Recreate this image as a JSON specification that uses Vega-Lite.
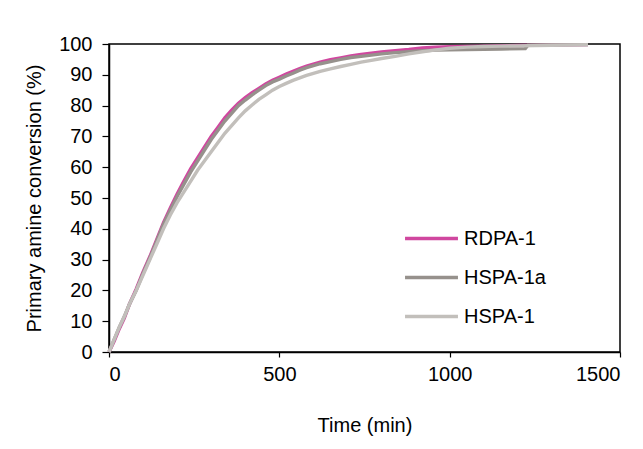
{
  "$schema": "https://vega.github.io/schema/vega-lite/v6.json",
  "autosize": {"type": "none"},
  "padding": {"left": 109, "top": 44, "right": 23, "bottom": 97},
  "width": 511,
  "height": 308,
  "background": "white",
  "config": {
    "font": "Liberation Sans",
    "view": {"stroke": "black", "strokeWidth": 1.5},
    "axis": {"grid": false, "domainColor": "black", "domainWidth": 1.5, "tickColor": "black", "tickWidth": 1.2, "labelColor": "black", "labelFontSize": 20, "titleFontSize": 20, "titleFontWeight": "normal", "titleColor": "black", "labelFont": "Liberation Sans", "titleFont": "Liberation Sans"}
  },
  "datasets": {
    "curves": [
      {"series": "RDPA-1", "t": 0, "v": 0}, {"series": "RDPA-1", "t": 15, "v": 3.5}, {"series": "RDPA-1", "t": 30, "v": 7.5}, {"series": "RDPA-1", "t": 45, "v": 11}, {"series": "RDPA-1", "t": 60, "v": 15.5}, {"series": "RDPA-1", "t": 80, "v": 20.5}, {"series": "RDPA-1", "t": 100, "v": 26}, {"series": "RDPA-1", "t": 120, "v": 31}, {"series": "RDPA-1", "t": 140, "v": 36.5}, {"series": "RDPA-1", "t": 160, "v": 42}, {"series": "RDPA-1", "t": 180, "v": 46.8}, {"series": "RDPA-1", "t": 200, "v": 51.3}, {"series": "RDPA-1", "t": 220, "v": 55.5}, {"series": "RDPA-1", "t": 240, "v": 59.5}, {"series": "RDPA-1", "t": 260, "v": 63}, {"series": "RDPA-1", "t": 280, "v": 66.5}, {"series": "RDPA-1", "t": 300, "v": 70}, {"series": "RDPA-1", "t": 320, "v": 73}, {"series": "RDPA-1", "t": 340, "v": 76}, {"series": "RDPA-1", "t": 360, "v": 78.5}, {"series": "RDPA-1", "t": 380, "v": 80.8}, {"series": "RDPA-1", "t": 400, "v": 82.6}, {"series": "RDPA-1", "t": 420, "v": 84.2}, {"series": "RDPA-1", "t": 440, "v": 85.6}, {"series": "RDPA-1", "t": 460, "v": 87}, {"series": "RDPA-1", "t": 480, "v": 88.2}, {"series": "RDPA-1", "t": 500, "v": 89.2}, {"series": "RDPA-1", "t": 520, "v": 90.2}, {"series": "RDPA-1", "t": 540, "v": 91.1}, {"series": "RDPA-1", "t": 560, "v": 92}, {"series": "RDPA-1", "t": 580, "v": 92.8}, {"series": "RDPA-1", "t": 600, "v": 93.5}, {"series": "RDPA-1", "t": 620, "v": 94.1}, {"series": "RDPA-1", "t": 650, "v": 94.9}, {"series": "RDPA-1", "t": 680, "v": 95.5}, {"series": "RDPA-1", "t": 710, "v": 96.1}, {"series": "RDPA-1", "t": 740, "v": 96.6}, {"series": "RDPA-1", "t": 770, "v": 97}, {"series": "RDPA-1", "t": 800, "v": 97.4}, {"series": "RDPA-1", "t": 840, "v": 97.8}, {"series": "RDPA-1", "t": 880, "v": 98.2}, {"series": "RDPA-1", "t": 920, "v": 98.7}, {"series": "RDPA-1", "t": 960, "v": 99}, {"series": "RDPA-1", "t": 1000, "v": 99.1}, {"series": "RDPA-1", "t": 1050, "v": 99.2}, {"series": "RDPA-1", "t": 1100, "v": 99.3}, {"series": "RDPA-1", "t": 1200, "v": 99.5}, {"series": "RDPA-1", "t": 1300, "v": 99.7}, {"series": "RDPA-1", "t": 1406, "v": 99.8},
      {"series": "HSPA-1a", "t": 0, "v": 0}, {"series": "HSPA-1a", "t": 15, "v": 4}, {"series": "HSPA-1a", "t": 30, "v": 8}, {"series": "HSPA-1a", "t": 45, "v": 11.5}, {"series": "HSPA-1a", "t": 60, "v": 15.5}, {"series": "HSPA-1a", "t": 80, "v": 20}, {"series": "HSPA-1a", "t": 100, "v": 25.5}, {"series": "HSPA-1a", "t": 120, "v": 30.5}, {"series": "HSPA-1a", "t": 140, "v": 36}, {"series": "HSPA-1a", "t": 160, "v": 41.5}, {"series": "HSPA-1a", "t": 180, "v": 46}, {"series": "HSPA-1a", "t": 200, "v": 50.5}, {"series": "HSPA-1a", "t": 220, "v": 54.5}, {"series": "HSPA-1a", "t": 240, "v": 58.5}, {"series": "HSPA-1a", "t": 260, "v": 62}, {"series": "HSPA-1a", "t": 280, "v": 65.5}, {"series": "HSPA-1a", "t": 300, "v": 69}, {"series": "HSPA-1a", "t": 320, "v": 72}, {"series": "HSPA-1a", "t": 340, "v": 75}, {"series": "HSPA-1a", "t": 360, "v": 77.5}, {"series": "HSPA-1a", "t": 380, "v": 80}, {"series": "HSPA-1a", "t": 400, "v": 81.8}, {"series": "HSPA-1a", "t": 420, "v": 83.5}, {"series": "HSPA-1a", "t": 440, "v": 85}, {"series": "HSPA-1a", "t": 460, "v": 86.5}, {"series": "HSPA-1a", "t": 480, "v": 87.7}, {"series": "HSPA-1a", "t": 500, "v": 88.6}, {"series": "HSPA-1a", "t": 520, "v": 89.6}, {"series": "HSPA-1a", "t": 540, "v": 90.5}, {"series": "HSPA-1a", "t": 560, "v": 91.5}, {"series": "HSPA-1a", "t": 580, "v": 92.3}, {"series": "HSPA-1a", "t": 600, "v": 93}, {"series": "HSPA-1a", "t": 620, "v": 93.6}, {"series": "HSPA-1a", "t": 650, "v": 94.3}, {"series": "HSPA-1a", "t": 680, "v": 95}, {"series": "HSPA-1a", "t": 710, "v": 95.6}, {"series": "HSPA-1a", "t": 740, "v": 96}, {"series": "HSPA-1a", "t": 770, "v": 96.4}, {"series": "HSPA-1a", "t": 800, "v": 96.8}, {"series": "HSPA-1a", "t": 840, "v": 97.2}, {"series": "HSPA-1a", "t": 880, "v": 97.5}, {"series": "HSPA-1a", "t": 920, "v": 97.8}, {"series": "HSPA-1a", "t": 960, "v": 98}, {"series": "HSPA-1a", "t": 1000, "v": 98.1}, {"series": "HSPA-1a", "t": 1050, "v": 98.2}, {"series": "HSPA-1a", "t": 1100, "v": 98.3}, {"series": "HSPA-1a", "t": 1150, "v": 98.4}, {"series": "HSPA-1a", "t": 1222, "v": 98.5}, {"series": "HSPA-1a", "t": 1230, "v": 99.6}, {"series": "HSPA-1a", "t": 1300, "v": 99.7}, {"series": "HSPA-1a", "t": 1406, "v": 99.8},
      {"series": "HSPA-1", "t": 0, "v": 0}, {"series": "HSPA-1", "t": 15, "v": 4}, {"series": "HSPA-1", "t": 30, "v": 8}, {"series": "HSPA-1", "t": 45, "v": 11.5}, {"series": "HSPA-1", "t": 60, "v": 15.5}, {"series": "HSPA-1", "t": 80, "v": 20}, {"series": "HSPA-1", "t": 100, "v": 25}, {"series": "HSPA-1", "t": 120, "v": 30}, {"series": "HSPA-1", "t": 140, "v": 35}, {"series": "HSPA-1", "t": 160, "v": 40}, {"series": "HSPA-1", "t": 180, "v": 44.5}, {"series": "HSPA-1", "t": 200, "v": 48.5}, {"series": "HSPA-1", "t": 220, "v": 52}, {"series": "HSPA-1", "t": 240, "v": 55.5}, {"series": "HSPA-1", "t": 260, "v": 59}, {"series": "HSPA-1", "t": 280, "v": 62}, {"series": "HSPA-1", "t": 300, "v": 65}, {"series": "HSPA-1", "t": 320, "v": 68}, {"series": "HSPA-1", "t": 340, "v": 71}, {"series": "HSPA-1", "t": 360, "v": 73.5}, {"series": "HSPA-1", "t": 380, "v": 76}, {"series": "HSPA-1", "t": 400, "v": 78.3}, {"series": "HSPA-1", "t": 420, "v": 80.2}, {"series": "HSPA-1", "t": 440, "v": 82}, {"series": "HSPA-1", "t": 460, "v": 83.5}, {"series": "HSPA-1", "t": 480, "v": 85}, {"series": "HSPA-1", "t": 500, "v": 86.2}, {"series": "HSPA-1", "t": 520, "v": 87.2}, {"series": "HSPA-1", "t": 540, "v": 88.2}, {"series": "HSPA-1", "t": 560, "v": 89}, {"series": "HSPA-1", "t": 580, "v": 89.8}, {"series": "HSPA-1", "t": 600, "v": 90.5}, {"series": "HSPA-1", "t": 620, "v": 91.1}, {"series": "HSPA-1", "t": 650, "v": 91.9}, {"series": "HSPA-1", "t": 680, "v": 92.7}, {"series": "HSPA-1", "t": 710, "v": 93.4}, {"series": "HSPA-1", "t": 740, "v": 94.1}, {"series": "HSPA-1", "t": 770, "v": 94.7}, {"series": "HSPA-1", "t": 800, "v": 95.3}, {"series": "HSPA-1", "t": 840, "v": 96}, {"series": "HSPA-1", "t": 880, "v": 96.8}, {"series": "HSPA-1", "t": 920, "v": 97.5}, {"series": "HSPA-1", "t": 960, "v": 98.1}, {"series": "HSPA-1", "t": 1000, "v": 98.6}, {"series": "HSPA-1", "t": 1050, "v": 99}, {"series": "HSPA-1", "t": 1100, "v": 99.2}, {"series": "HSPA-1", "t": 1150, "v": 99.3}, {"series": "HSPA-1", "t": 1200, "v": 99.4}, {"series": "HSPA-1", "t": 1300, "v": 99.6}, {"series": "HSPA-1", "t": 1406, "v": 99.8}
    ]
  },
  "data": {"name": "curves"},
  "encoding": {
    "x": {"field": "t", "type": "quantitative", "title": "Time (min)", "scale": {"domain": [0, 1500], "nice": false}, "axis": {"values": [0, 500, 1000, 1500], "format": "d", "tickSize": 5, "labelPadding": 7, "titlePadding": 31}},
    "y": {"field": "v", "type": "quantitative", "title": "Primary amine conversion (%)", "scale": {"domain": [0, 100], "nice": false}, "axis": {"values": [0, 10, 20, 30, 40, 50, 60, 70, 80, 90, 100], "format": "d", "tickSize": 7, "labelPadding": 10, "titlePadding": 14}},
    "color": {"field": "series", "type": "nominal", "scale": {"domain": ["RDPA-1", "HSPA-1a", "HSPA-1"], "range": ["#d0479f", "#96918c", "#c2bfbb"]},
      "legend": {"title": null, "orient": "none", "legendX": 294, "legendY": 166, "symbolType": "stroke", "symbolSize": 2800, "symbolStrokeWidth": 3.5, "labelFontSize": 20, "labelColor": "black", "labelFont": "Liberation Sans", "labelOffset": 4, "rowPadding": -2}}
  },
  "layer": [
    {"transform": [{"filter": "datum.series === 'RDPA-1'"}], "mark": {"type": "line", "strokeWidth": 3.4}},
    {"transform": [{"filter": "datum.series === 'HSPA-1a'"}], "mark": {"type": "line", "strokeWidth": 3.4}},
    {"transform": [{"filter": "datum.series === 'HSPA-1'"}], "mark": {"type": "line", "strokeWidth": 3.4}}
  ]
}
